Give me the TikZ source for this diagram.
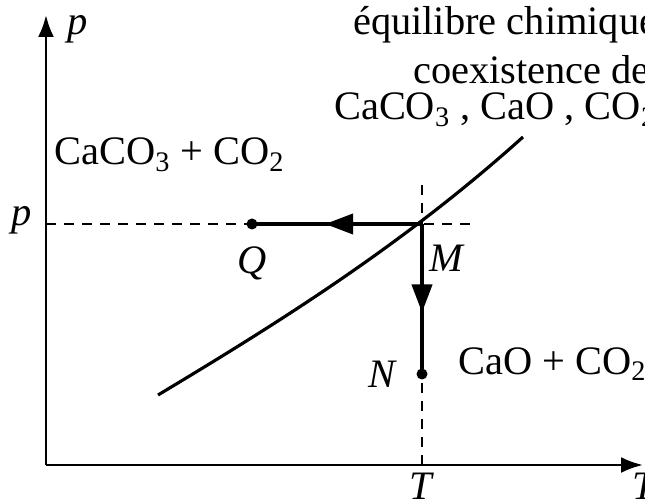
\documentclass[tikz,border=0pt]{standalone}
\usepackage{fontspec}
\setmainfont{Liberation Serif}
\usetikzlibrary{arrows.meta,decorations.markings}

\begin{document}
\begin{tikzpicture}[font=\fontsize{23}{27}\selectfont,
  midarrow/.style={decoration={markings,mark=at position #1 with {\arrow{Triangle[length=0.56cm,width=0.4cm]}}},postaction={decorate}},
  dot/.style={circle,fill,inner sep=0pt,minimum size=0.22cm},
  guide/.style={line width=0.8pt,dash pattern=on 0.2cm off 0.16cm}]
\clip (-0.92,-0.74) rectangle (11.98,9.30);
% axes
\coordinate (O) at (0,0);
\coordinate (ptop) at (0,9.0);
\coordinate (Tend) at (11.94,0);
\draw[line width=1.6pt,-{Latex[length=0.44cm,width=0.32cm]}] (O) -- (ptop);
\draw[line width=1.6pt,-{Latex[length=0.44cm,width=0.32cm]}] (O) -- (Tend);
\node[anchor=west] (paxis) at (0.3,8.72) {\textit{p}};
\node[anchor=west] (Taxis) at (11.6,-0.43) {\textit{T}};

% equilibrium curve
\coordinate (cs) at (2.24,1.40);
\coordinate (ce) at (9.54,6.56);
\draw[line width=1.8pt] (cs) .. controls (4.64,2.84) and (7.14,4.40) .. (ce);

% dashed guides through M
\coordinate (M) at (7.52,4.82);
\coordinate (pa) at (0,4.82);
\coordinate (pb) at (8.62,4.82);
\coordinate (Ta) at (7.52,0);
\coordinate (Tb) at (7.52,5.74);
\draw[guide] (pa) -- (pb);
\draw[guide] (Ta) -- (Tb);

% the two displacements
\node[dot] (Q) at (4.12,4.82) {};
\node[dot] (N) at (7.52,1.82) {};
\draw[line width=2.2pt,midarrow=0.57] (M) -- (Q.center);
\draw[line width=2.2pt,midarrow=0.59] (M) -- (N.center);

% point labels
\node (plab) at (-0.48,4.9) {\textit{p}};
\node (Qlab) at (4.12,4.04) {\textit{Q}};
\node (Mlab) at (8.02,4.14) {\textit{M}};
\node (Nlab) at (6.74,1.82) {\textit{N}};
\node (Tlab) at (7.52,-0.43) {\textit{T}};

% domains
\node[anchor=west] (left) at (0.04,6.2) {CaCO\textsubscript{3} + CO\textsubscript{2}};
\node[anchor=west] (right) at (8.12,2.02) {CaO + CO\textsubscript{2}};
\node[anchor=west,inner sep=1pt] (eq1) at (6.1,8.8) {équilibre chimique};
\node[anchor=west,inner sep=1pt] (eq2) at (7.3,7.9) {coexistence de};
\node[anchor=west,inner sep=1pt] (eq3) at (5.72,7.1) {CaCO\textsubscript{3} , CaO , CO\textsubscript{2}};
\end{tikzpicture}
\end{document}
